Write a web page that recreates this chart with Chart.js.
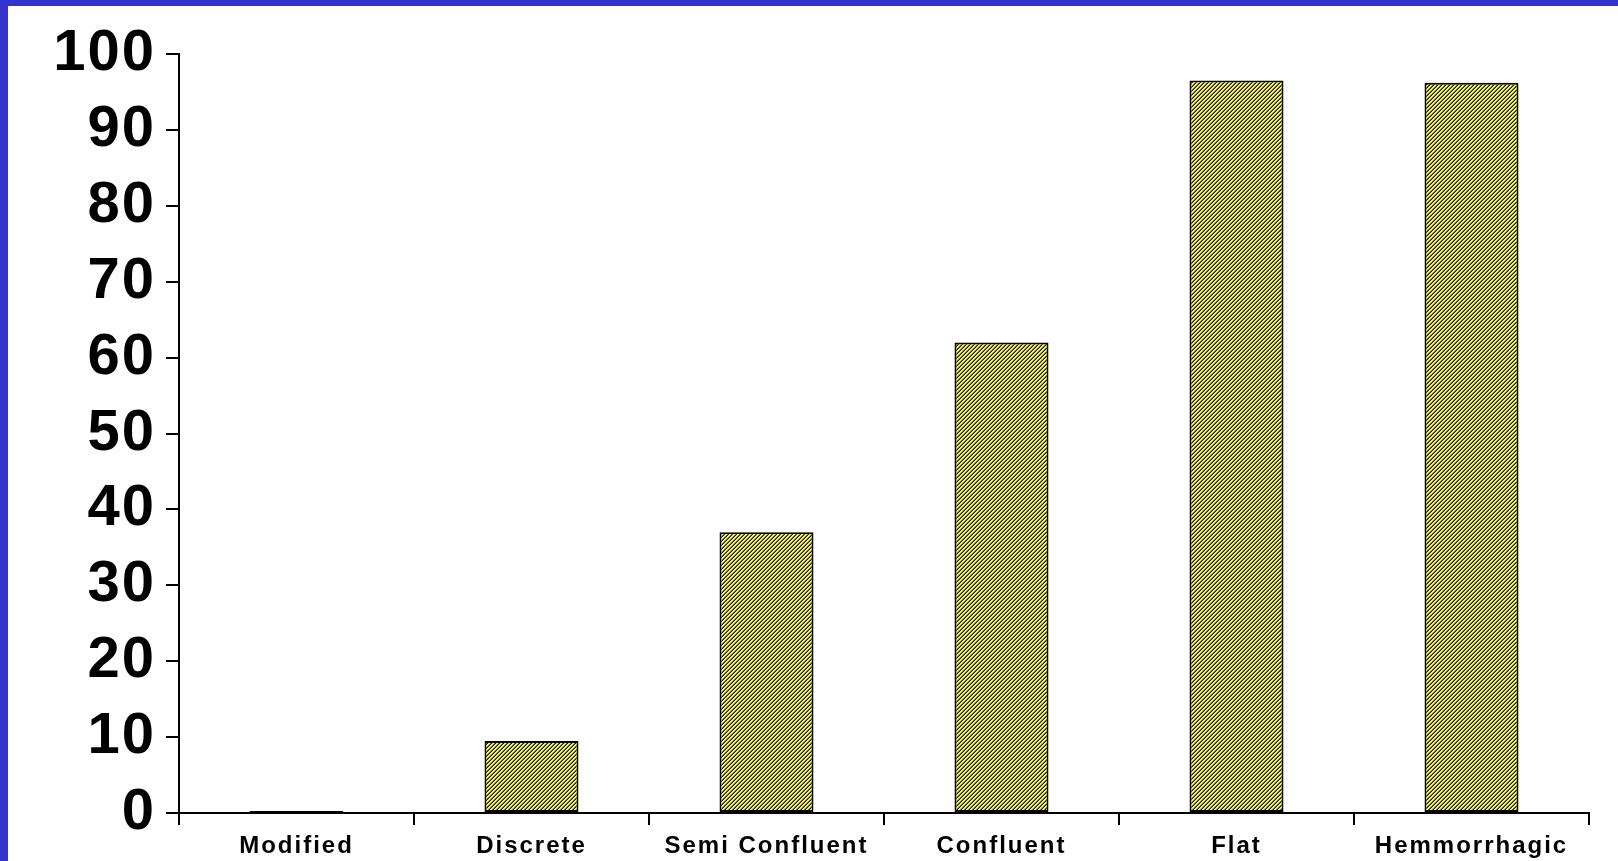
<!DOCTYPE html>
<html>
<head>
<meta charset="utf-8">
<script src="https://cdn.jsdelivr.net/npm/chart.js@4"></script>
<style>
  html, body { margin: 0; padding: 0; }
  body { background: #3333cc; width: 1618px; height: 861px; overflow: hidden; }
  #wrap { position: absolute; left: 8px; top: 6px; width: 1610px; height: 855px; background: #fff; }
</style>
</head>
<body>
<div id="wrap"><canvas id="chart"></canvas></div>
<script>
  // data
  const categories = ['Modified', 'Discrete', 'Semi Confluent', 'Confluent', 'Flat', 'Hemmorrhagic'];
  const values = [0, 9.5, 37, 62, 96.5, 96.2];
  const yTicks = [0, 10, 20, 30, 40, 50, 60, 70, 80, 90, 100];

  // yellow / black diagonal hatch like the old office fill
  function hatch() {
    const c = document.createElement('canvas');
    c.width = 4; c.height = 4;
    const g = c.getContext('2d');
    const shades = ['#000000', '#ffff00', '#ffff00', '#7a7a00'];
    for (let x = 0; x < 4; x++) {
      for (let y = 0; y < 4; y++) {
        g.fillStyle = shades[(x + y) % 4];
        g.fillRect(x, y, 1, 1);
      }
    }
    return g.createPattern(c, 'repeat');
  }

  const spacing = {
    id: 'spacing',
    beforeLayout(chart) { chart.ctx.letterSpacing = '2px'; },
    beforeDraw(chart) { chart.ctx.letterSpacing = '2px'; },
  };

  new Chart(document.getElementById('chart'), {
    type: 'bar',
    data: {
      labels: categories,
      datasets: [{
        data: values,
        backgroundColor: hatch(),
        borderColor: '#000',
        borderWidth: 2,
        borderSkipped: false,
        minBarLength: 2,
        barPercentage: 0.4,
        categoryPercentage: 1,
      }],
    },
    options: {
      responsive: true,
      maintainAspectRatio: false,
      animation: false,
      layout: { padding: { top: 48, right: 29, bottom: 0, left: 0 } },
      plugins: { legend: { display: false }, tooltip: { enabled: false } },
      scales: {
        x: {
          afterFit(scale) { scale.height = 48; },
          grid: { display: true, drawOnChartArea: false, drawTicks: true, tickLength: 12, color: '#000', lineWidth: 2, offset: true },
          border: { display: true, color: '#000', width: 2 },
          ticks: { color: '#000', font: { family: 'Liberation Sans', size: 24, weight: 'bold' }, padding: 7, maxRotation: 0, autoSkip: false },
        },
        y: {
          min: 0,
          max: 100,
          afterBuildTicks(scale) { scale.ticks = yTicks.map(v => ({ value: v })); },
          afterFit(scale) { scale.width = 171; },
          grid: { display: true, drawOnChartArea: false, drawTicks: true, tickLength: 13, color: '#000', lineWidth: 2 },
          border: { display: true, color: '#000', width: 2 },
          ticks: { color: '#000', font: { family: 'Liberation Sans', size: 58, weight: 'bold' }, padding: 10 },
        },
      },
    },
    plugins: [spacing],
  });
</script>
</body>
</html>
